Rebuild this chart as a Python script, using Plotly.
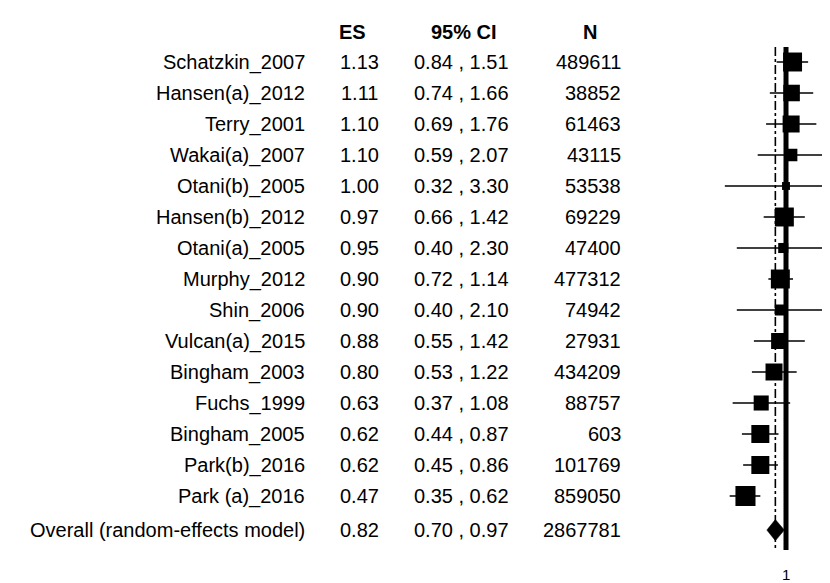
import plotly.graph_objects as go

# ---------------- data ----------------
studies = ["Schatzkin_2007", "Hansen(a)_2012", "Terry_2001", "Wakai(a)_2007",
           "Otani(b)_2005", "Hansen(b)_2012", "Otani(a)_2005", "Murphy_2012",
           "Shin_2006", "Vulcan(a)_2015", "Bingham_2003", "Fuchs_1999",
           "Bingham_2005", "Park(b)_2016", "Park (a)_2016"]
es = [1.13, 1.11, 1.10, 1.10, 1.00, 0.97, 0.95, 0.90, 0.90, 0.88, 0.80, 0.63, 0.62, 0.62, 0.47]
ci_lo = [0.84, 0.74, 0.69, 0.59, 0.32, 0.66, 0.40, 0.72, 0.40, 0.55, 0.53, 0.37, 0.44, 0.45, 0.35]
ci_hi = [1.51, 1.66, 1.76, 2.07, 3.30, 1.42, 2.30, 1.14, 2.10, 1.42, 1.22, 1.08, 0.87, 0.86, 0.62]
n = [489611, 38852, 61463, 43115, 53538, 69229, 47400, 477312, 74942, 27931,
     434209, 88757, 603, 101769, 859050]
weights = [9.2, 7.0, 7.4, 4.0, 1.6, 9.2, 2.6, 9.2, 3.1, 6.6, 7.4, 5.8, 8.3, 8.3, 10.3]  # % (estimated)

overall_label = "Overall (random-effects model)"
overall_es = 0.82
overall_lo = 0.70
overall_hi = 0.97
overall_n = 2867781

headers = ["ES", "95% CI", "N"]
null_value = 1
tick_labels = ["1"]

# ---------------- layout helpers ----------------
W, H = 830, 583
FONT = "Liberation Sans, Arial, sans-serif"
FS = 20
row_y = list(range(len(studies)))
overall_y = len(studies) + 0.1
px0, py = 54.0, 31.0          # pixel y of row 0, pixels per row
x_c, x_k = 778.0, 123.6       # pixel x of value 1, pixels per log10 unit


def yrow(pix):
    return (pix - px0) / py


def xp(pix):
    return pix / W


fig = go.Figure()

# CI whiskers
wx, wy = [], []
for i in row_y:
    wx += [ci_lo[i], ci_hi[i], None]
    wy += [i, i, None]
fig.add_trace(go.Scatter(x=wx, y=wy, mode="lines",
                         line=dict(color="black", width=1.5), hoverinfo="skip"))

# weighted squares
sizes = [6.25 * w ** 0.5 for w in weights]
fig.add_trace(go.Scatter(x=es, y=row_y, mode="markers",
                         marker=dict(symbol="square", size=sizes, color="#000000",
                                     opacity=1, line=dict(width=0)),
                         opacity=1, cliponaxis=False, hoverinfo="skip"))

# overall diamond
h = 0.34
fig.add_trace(go.Scatter(x=[overall_lo, overall_es, overall_hi, overall_es, overall_lo],
                         y=[overall_y, overall_y - h, overall_y, overall_y + h, overall_y],
                         mode="lines", fill="toself", fillcolor="black",
                         line=dict(color="black", width=0.5), hoverinfo="skip"))

# reference lines
fig.add_shape(type="line", xref="x", yref="y", x0=overall_es, x1=overall_es,
              y0=yrow(39), y1=yrow(540), layer="below",
              line=dict(color="black", width=1.6, dash="dashdot"))
fig.add_shape(type="line", xref="x", yref="y", x0=null_value, x1=null_value,
              y0=yrow(39), y1=yrow(542), layer="above",
              line=dict(color="black", width=5))

ann = []
txt = dict(family=FONT, size=FS, color="black")
labels = studies + [overall_label]
es_all = es + [overall_es]
lo_all = ci_lo + [overall_lo]
hi_all = ci_hi + [overall_hi]
n_all = n + [overall_n]
ys = row_y + [overall_y]
for lab, e, lo, hi, nn, y in zip(labels, es_all, lo_all, hi_all, n_all, ys):
    ann.append(dict(x=xp(299), y=y, xref="paper", yref="y", text=lab,
                    xanchor="right", yanchor="middle", showarrow=False, font=txt))
    ann.append(dict(x=xp(351), y=y, xref="paper", yref="y", text=f"{e:.2f}",
                    xanchor="center", yanchor="middle", showarrow=False, font=txt))
    ann.append(dict(x=xp(453.5), y=y, xref="paper", yref="y", text=f"{lo:.2f} , {hi:.2f}",
                    xanchor="center", yanchor="middle", showarrow=False, font=txt))
    ann.append(dict(x=xp(615), y=y, xref="paper", yref="y", text=f"{nn}",
                    xanchor="right", yanchor="middle", showarrow=False, font=txt))

hy = yrow(24)
for hx, ht in zip([344, 456, 582], headers):
    ann.append(dict(x=xp(hx), y=hy, xref="paper", yref="y", text=f"<b>{ht}</b>",
                    xanchor="center", yanchor="middle", showarrow=False, font=txt))

ann.append(dict(x=xp(x_c), y=(H - 566) / H, xref="paper", yref="paper", text=tick_labels[0],
                xanchor="center", yanchor="middle", showarrow=False,
                font=dict(family=FONT, size=15, color="black")))

fig.update_layout(
    width=W, height=H, margin=dict(l=0, r=0, t=0, b=0),
    paper_bgcolor="white", plot_bgcolor="white", showlegend=False,
    annotations=ann,
    xaxis=dict(type="log", domain=[0.8, 1.0],
               range=[(0.8 * W - x_c) / x_k, (W - x_c) / x_k],
               visible=False, fixedrange=True),
    yaxis=dict(range=[yrow(H), yrow(0)], visible=False, fixedrange=True),
)

fig.write_html("out.html")
